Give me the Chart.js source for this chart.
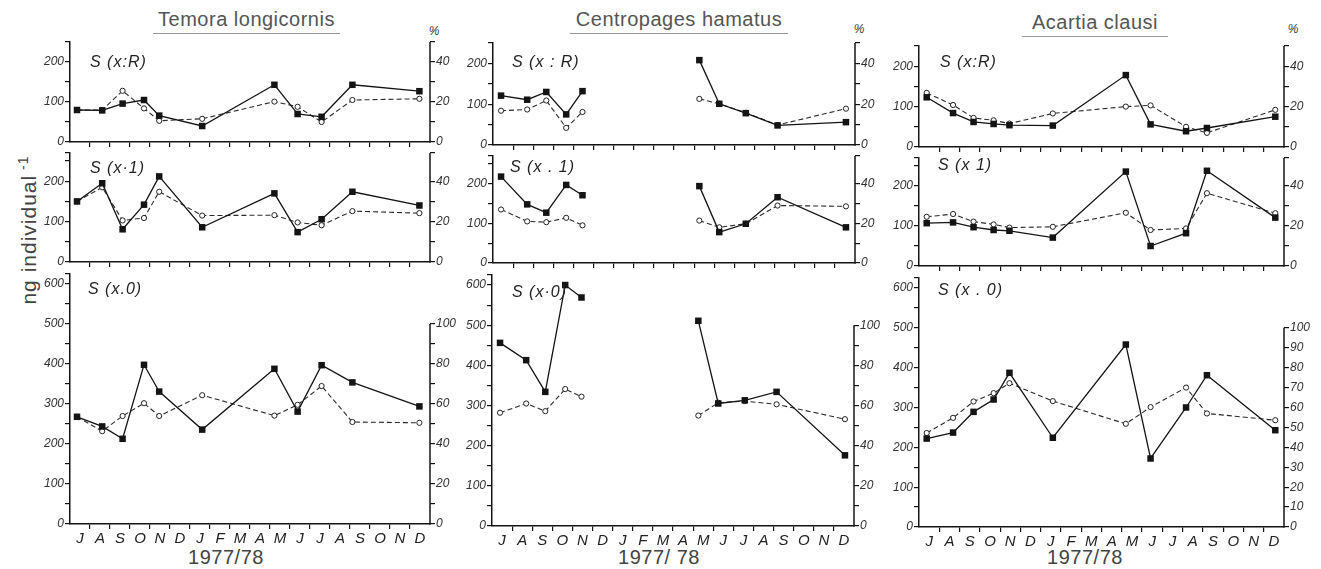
<!DOCTYPE html>
<html lang="en">
<head>
<meta charset="UTF-8">
<title>Temora, Centropages, Acartia 1977/78</title>
<script src="https://cdn.jsdelivr.net/npm/chart.js@4"></script>
<style>
  body { margin: 0; background: #fff; width: 1321px; height: 569px; position: relative; overflow: hidden;
         font-family: "Liberation Sans", Arial, sans-serif; color: #333; }
  canvas { position: absolute; }
  .txt { position: absolute; white-space: nowrap; }
  .title { font-size: 20px; line-height: 22px; color: #555; letter-spacing: 0.5px; text-align: center;
           border-bottom: 1px solid #999; padding-bottom: 3px; }
  .panel { font-size: 16px; font-style: italic; color: #222; letter-spacing: 1px; transform: translateY(-50%); }
  .pct { font-size: 12px; font-style: italic; color: #333; transform: translate(-50%, -50%); }
  .year { font-size: 20px; color: #444; letter-spacing: 0.5px; transform: translate(-50%, -50%); }
  .ytitle { font-size: 21px; color: #444; letter-spacing: 1px; transform: translate(-50%, -50%) rotate(-90deg); }
  .ytitle sup { font-size: 14px; }
</style>
</head>
<body>

<div class="txt title" style="left:153px; top:8px; width:187px;">Temora longicornis</div>
<div class="txt title" style="left:570px; top:8px; width:218px;">Centropages hamatus</div>
<div class="txt title" style="left:1022px; top:11px; width:146px;">Acartia clausi</div>

<div class="txt pct" style="left:434px; top:31px;">%</div>
<div class="txt pct" style="left:859px; top:29px;">%</div>
<div class="txt pct" style="left:1293px; top:29px;">%</div>

<div class="txt ytitle" style="left:28px; top:230px;">ng individual<sup> -1</sup></div>

<div class="txt year" style="left:226px; top:557px;">1977/78</div>
<div class="txt year" style="left:659px; top:557px;">1977/ 78</div>
<div class="txt year" style="left:1085px; top:557px;">1977/78</div>

<script>
  // x axis: months July 1977 .. December 1978, sampling dates in month units
  const months = ['J', 'A', 'S', 'O', 'N', 'D', 'J', 'F', 'M', 'A', 'M', 'J', 'J', 'A', 'S', 'O', 'N', 'D'];

  // Temora longicornis
  const temoraDates = [0.35, 1.61, 2.63, 3.7, 4.46, 6.61, 10.22, 11.38, 12.58, 14.12, 17.47];
  const temoraRNg  = [80, 79, 96, 105, 66, 40, 143, 70, 63, 143, 127];
  const temoraRPct = [16, 16, 25.6, 16.8, 10.6, 11.6, 20.2, 17.6, 10, 21, 21.6];
  const temora1Ng  = [150, 195, 81, 142, 212, 86, 170, 74, 106, 174, 140];
  const temora1Pct = [30, 37, 20.6, 21.8, 34.8, 23, 23.2, 19.6, 18.2, 25.2, 24.2];
  const temora0Ng  = [268, 244, 213, 398, 331, 236, 388, 281, 397, 354, 294];
  const temora0Pct = [53.6, 46.4, 54, 60.4, 54, 64.4, 54.2, 59.6, 69, 51, 50.6];

  // Centropages hamatus (no samples Dec - Apr)
  const centroDates = [0.4, 1.7, 2.65, 3.64, 4.45, 7, 10.26, 11.25, 12.57, 14.15, 17.55];
  const centroRNg  = [121, 111, 130, 75, 132, null, 208, 101, 78, 48, 56];
  const centroRPct = [16.8, 17.4, 21.8, 8.4, 16.2, null, 22.6, 20.2, 15.8, 9.8, 17.8];
  const centro1Ng  = [218, 148, 127, 197, 171, null, 194, 78, 99, 166, 90];
  const centro1Pct = [27, 21, 20.6, 22.8, 19, null, 21.4, 18, 19.8, 29, 28.6];
  const centro0Ng  = [456, 413, 334, 600, 569, null, 511, 305, 313, 334, 176];
  const centro0Pct = [56.4, 61, 57.2, 68.2, 64.4, null, 55, 61.4, 62.2, 60.6, 53.2];

  // Acartia clausi
  const acartiaDates = [0.38, 1.68, 2.69, 3.68, 4.46, 6.6, 10.2, 11.42, 13.17, 14.2, 17.57];
  const acartiaRNg  = [123, 84, 62, 57, 54, 53, 178, 56, 39, 47, 75];
  const acartiaRPct = [26.8, 20.8, 14.4, 13.2, 11.6, 16.6, 20, 20.6, 10, 7, 18.4];
  const acartia1Ng  = [107, 109, 97, 90, 88, 71, 236, 50, 82, 238, 121];
  const acartia1Pct = [24.6, 26, 22.2, 20.8, 19.2, 19.6, 26.6, 18, 18.8, 36.4, 26.4];
  const acartia0Ng  = [222, 237, 289, 320, 387, 224, 458, 172, 300, 381, 243];
  const acartia0Pct = [47.2, 54.8, 63, 67.2, 72.2, 63.2, 51.8, 60.2, 70, 57, 53.6];

  // per row: axis ranges and ticks (left ng, right %)
  const rows = [
    { max: 250, pctMax: 50, pctLine: 50,
      ngTicks: [0, 50, 100, 150, 200, 250], ngLabels: [0, 100, 200],
      pctTicks: [0, 10, 20, 30, 40, 50], pctLabels: [0, 20, 40] },
    { max: 270, pctMax: 54, pctLine: 54,
      ngTicks: [0, 50, 100, 150, 200, 250, 270], ngLabels: [0, 100, 200],
      pctTicks: [0, 10, 20, 30, 40, 54], pctLabels: [0, 20, 40] },
    { max: 625, pctMax: 125, pctLine: 100,
      ngTicks: [0, 50, 100, 150, 200, 250, 300, 350, 400, 450, 500, 550, 600, 625], ngLabels: [0, 100, 200, 300, 400, 500, 600],
      pctTicks: [0, 10, 20, 30, 40, 50, 60, 70, 80, 90, 100], pctLabels: [0, 20, 40, 60, 80, 100] }
  ];

  // box = [left, right, top, bottom] of the plot area
  const panels = [
    { box: [70, 430, 42, 142],   row: 0, dates: temoraDates, ng: temoraRNg, pct: temoraRPct, text: 'S (x:R)', tx: 90, ty: 62 },
    { box: [70, 430, 153, 262],  row: 1, dates: temoraDates, ng: temora1Ng, pct: temora1Pct, text: 'S (x·1)', tx: 90, ty: 168 },
    { box: [70, 430, 274, 524],  row: 2, dates: temoraDates, ng: temora0Ng, pct: temora0Pct, text: 'S (x.0)', tx: 88, ty: 289 },
    { box: [493, 855, 43, 145],  row: 0, dates: centroDates, ng: centroRNg, pct: centroRPct, text: 'S (x : R)', tx: 512, ty: 62 },
    { box: [493, 855, 156, 263], row: 1, dates: centroDates, ng: centro1Ng, pct: centro1Pct, text: 'S (x . 1)', tx: 510, ty: 167 },
    { box: [492, 854, 275, 526], row: 2, dates: centroDates, ng: centro0Ng, pct: centro0Pct, text: 'S (x·0)', tx: 512, ty: 292 },
    { box: [919, 1284, 46, 147], row: 0, dates: acartiaDates, ng: acartiaRNg, pct: acartiaRPct, text: 'S (x:R)', tx: 940, ty: 62 },
    { box: [919, 1284, 158, 266], row: 1, dates: acartiaDates, ng: acartia1Ng, pct: acartia1Pct, text: 'S (x 1)', tx: 938, ty: 165 },
    { box: [919, 1284, 278, 527], row: 2, dates: acartiaDates, ng: acartia0Ng, pct: acartia0Pct, text: 'S (x . 0)', tx: 938, ty: 290, allPct: true }
  ];

  const W_L = 50, W_R = 40, PAD_T = 8;
  const INK = '#141414';
  const tickFont = { family: 'Liberation Sans', style: 'italic', size: 12 };

  // right axis line only over its used range
  const rightAxisLine = {
    id: 'rightAxisLine',
    afterDraw(chart, args, opts) {
      const s = chart.scales.yp;
      const ctx = chart.ctx;
      ctx.save();
      ctx.strokeStyle = INK;
      ctx.lineWidth = 1.5;
      ctx.beginPath();
      ctx.moveTo(s.left, s.getPixelForValue(0) + 0.75);
      ctx.lineTo(s.left, s.getPixelForValue(opts.top));
      ctx.stroke();
      ctx.restore();
    }
  };

  function fixTicks(values) {
    return scale => { scale.ticks = values.map(v => ({ value: v })); };
  }

  panels.forEach(p => {
    const r = rows[p.row];
    const bottomRow = p.row === 2;
    const hb = bottomRow ? 32 : 8;
    const canvas = document.createElement('canvas');
    canvas.width = p.box[1] - p.box[0] + W_L + W_R;
    canvas.height = p.box[3] - p.box[2] + PAD_T + hb;
    canvas.style.left = (p.box[0] - W_L) + 'px';
    canvas.style.top = (p.box[2] - PAD_T) + 'px';
    document.body.appendChild(canvas);

    const lbl = document.createElement('div');
    lbl.className = 'txt panel';
    lbl.style.left = p.tx + 'px';
    lbl.style.top = p.ty + 'px';
    lbl.textContent = p.text;
    document.body.appendChild(lbl);

    const xTicks = [];
    for (let i = 0; i < 18; i++) {
      if (i > 0) xTicks.push(i);
      xTicks.push(i + 0.5);
    }
    const pctLabels = p.allPct ? r.pctTicks : r.pctLabels;

    new Chart(canvas, {
      type: 'line',
      data: {
        datasets: [
          {
            data: p.dates.map((x, i) => ({ x: x, y: p.ng[i] })),
            yAxisID: 'y',
            borderColor: INK,
            borderWidth: 1.3,
            pointStyle: 'rect',
            pointRadius: 4.6,
            pointBackgroundColor: INK,
            pointBorderColor: INK,
            pointBorderWidth: 0
          },
          {
            data: p.dates.map((x, i) => ({ x: x, y: p.pct[i] })),
            yAxisID: 'yp',
            borderColor: '#2a2a2a',
            borderWidth: 1.1,
            borderDash: [5, 3],
            pointStyle: 'circle',
            pointRadius: 2.6,
            pointBackgroundColor: '#fff',
            pointBorderColor: '#222',
            pointBorderWidth: 1
          }
        ]
      },
      options: {
        responsive: false,
        animation: false,
        events: [],
        layout: { padding: { top: PAD_T, left: 0, right: 0, bottom: 0 } },
        plugins: { legend: { display: false }, tooltip: { enabled: false }, rightAxisLine: { top: r.pctLine } },
        scales: {
          x: {
            type: 'linear', min: 0, max: 18,
            afterBuildTicks: fixTicks(xTicks),
            afterFit: s => { s.height = hb; s.paddingLeft = 0; s.paddingRight = 0; },
            border: { display: true, color: INK, width: 1.5 },
            grid: {
              drawOnChartArea: false, tickLength: 5, lineWidth: 1.2,
              tickColor: ctx => Number.isInteger(ctx.tick.value) ? INK : 'rgba(0,0,0,0)'
            },
            ticks: {
              autoSkip: false, maxRotation: 0, minRotation: 0, padding: 1, color: '#222',
              font: { family: 'Liberation Sans', style: 'italic', size: 15 },
              callback: v => (bottomRow && !Number.isInteger(v)) ? months[Math.floor(v)] : ''
            }
          },
          y: {
            position: 'left', min: 0, max: r.max,
            afterBuildTicks: fixTicks(r.ngTicks),
            afterFit: s => { s.width = W_L; s.paddingTop = 0; s.paddingBottom = 0; },
            border: { display: true, color: INK, width: 1.5 },
            grid: { drawOnChartArea: false, tickLength: 5, lineWidth: 1.2, tickColor: INK },
            ticks: { padding: 1, color: '#333', font: tickFont,
                     callback: v => r.ngLabels.includes(v) ? String(v) : '' }
          },
          yp: {
            position: 'right', min: 0, max: r.pctMax,
            afterBuildTicks: fixTicks(r.pctTicks),
            afterFit: s => { s.width = W_R; s.paddingTop = 0; s.paddingBottom = 0; },
            border: { display: false },
            grid: { drawOnChartArea: false, tickLength: 5, lineWidth: 1.2, tickColor: INK },
            ticks: { padding: 1, color: '#333', font: tickFont,
                     callback: v => pctLabels.includes(v) ? String(v) : '' }
          }
        }
      },
      plugins: [rightAxisLine]
    });
  });
</script>
</body>
</html>
